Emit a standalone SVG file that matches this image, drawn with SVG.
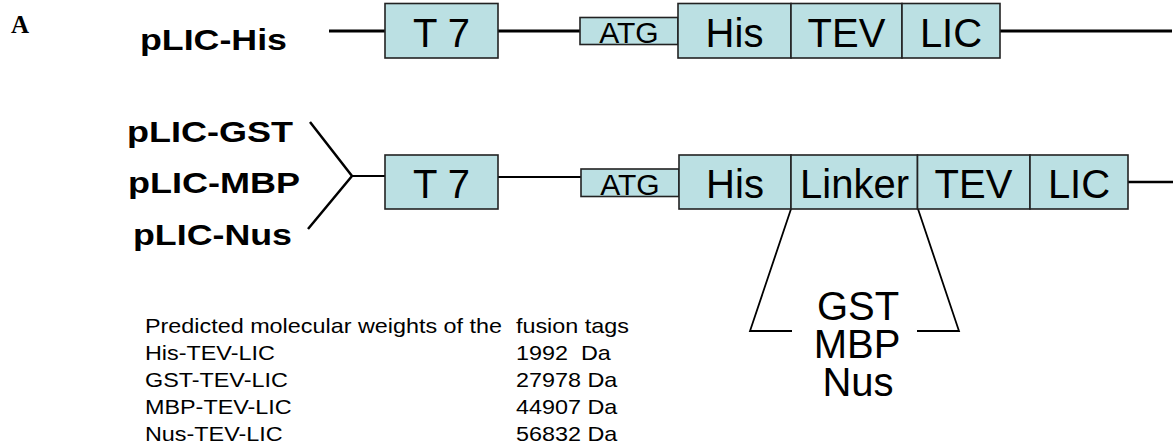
<svg xmlns="http://www.w3.org/2000/svg" width="1173" height="445" viewBox="0 0 1173 445">
<style>
.box{fill:#BBE0E3;stroke:#222;stroke-width:1.6}
.ln{stroke:#000;fill:none}
.bl{font-family:"Liberation Sans",Arial,sans-serif;font-size:40px;text-anchor:middle;fill:#000}
.atg{font-family:"Liberation Sans",Arial,sans-serif;font-size:30px;text-anchor:middle;fill:#000}
.lab{font-family:"Liberation Sans",Arial,sans-serif;font-size:30px;font-weight:bold;fill:#000}
.tb{font-family:"Liberation Sans",Arial,sans-serif;font-size:20.5px;fill:#000;white-space:pre}
</style>
<text x="11" y="33" style="font-family:'Liberation Serif','Times New Roman',serif;font-size:25px;font-weight:bold">A</text>

<g id="connectors">
  <line class="ln" x1="329" y1="31" x2="385" y2="31" stroke-width="3"/>
  <line class="ln" x1="498" y1="31" x2="580" y2="31" stroke-width="3"/>
  <line class="ln" x1="1000" y1="31" x2="1172" y2="31" stroke-width="3"/>
  <polyline class="ln" points="310,122 352,176 308,229" stroke-width="2.5"/>
  <line class="ln" x1="352" y1="176" x2="385" y2="176" stroke-width="2"/>
  <line class="ln" x1="498" y1="177" x2="581" y2="177" stroke-width="2"/>
  <line class="ln" x1="1128" y1="182" x2="1173" y2="182" stroke-width="2.5"/>
  <polyline class="ln" points="791,209 750,331 792,331" stroke-width="1.8"/>
  <polyline class="ln" points="918,209 959,331 917,331" stroke-width="1.8"/>
</g>

<g id="label-his"><text class="lab" x="140" y="50" textLength="147" lengthAdjust="spacingAndGlyphs">pLIC-His</text></g>
<g id="label-gst"><text class="lab" x="127" y="142" textLength="166" lengthAdjust="spacingAndGlyphs">pLIC-GST</text></g>
<g id="label-mbp"><text class="lab" x="128" y="193" textLength="172" lengthAdjust="spacingAndGlyphs">pLIC-MBP</text></g>
<g id="label-nus"><text class="lab" x="133" y="245" textLength="159" lengthAdjust="spacingAndGlyphs">pLIC-Nus</text></g>

<g id="r1-t7"><rect class="box" x="385" y="3.5" width="113" height="54.5"/><text class="bl" x="441.5" y="46.5">T 7</text></g>
<g id="r1-atg"><rect class="box" x="580" y="17.5" width="98" height="27"/><text class="atg" x="629" y="43.3">ATG</text></g>
<g id="r1-his"><rect class="box" x="678" y="3.5" width="113" height="54.5"/><text class="bl" x="734.5" y="46.5">His</text></g>
<g id="r1-tev"><rect class="box" x="791" y="3.5" width="111" height="54.5"/><text class="bl" x="846.5" y="46.5">TEV</text></g>
<g id="r1-lic"><rect class="box" x="902" y="3.5" width="98" height="54.5"/><text class="bl" x="951" y="46.5">LIC</text></g>

<g id="r2-t7"><rect class="box" x="385" y="155" width="113" height="54"/><text class="bl" x="441.5" y="198">T 7</text></g>
<g id="r2-atg"><rect class="box" x="581" y="169" width="98" height="27.5"/><text class="atg" x="630" y="195">ATG</text></g>
<g id="r2-his"><rect class="box" x="679" y="155" width="112" height="54"/><text class="bl" x="735" y="198">His</text></g>
<g id="r2-linker"><rect class="box" x="791" y="155" width="126.5" height="54"/><text class="bl" x="854.5" y="198">Linker</text></g>
<g id="r2-tev"><rect class="box" x="917.5" y="155" width="112.5" height="54"/><text class="bl" x="973.5" y="198">TEV</text></g>
<g id="r2-lic"><rect class="box" x="1030" y="155" width="98" height="54"/><text class="bl" x="1079" y="198">LIC</text></g>

<g id="fusions">
  <text class="bl" x="858" y="320">GST</text>
  <text class="bl" x="857" y="358">MBP</text>
  <text class="bl" x="858" y="396">Nus</text>
</g>

<g id="table" transform="translate(145,0) scale(1.14,1)">
  <text class="tb" x="0" y="333">Predicted molecular weights of the</text>
  <text class="tb" x="325.4" y="333">fusion tags</text>
  <text class="tb" x="0" y="360">His-TEV-LIC</text>
  <text class="tb" x="325.4" y="360">1992  Da</text>
  <text class="tb" x="0" y="387">GST-TEV-LIC</text>
  <text class="tb" x="325.4" y="387">27978 Da</text>
  <text class="tb" x="0" y="414">MBP-TEV-LIC</text>
  <text class="tb" x="325.4" y="414">44907 Da</text>
  <text class="tb" x="0" y="441">Nus-TEV-LIC</text>
  <text class="tb" x="325.4" y="441">56832 Da</text>
</g>
</svg>
